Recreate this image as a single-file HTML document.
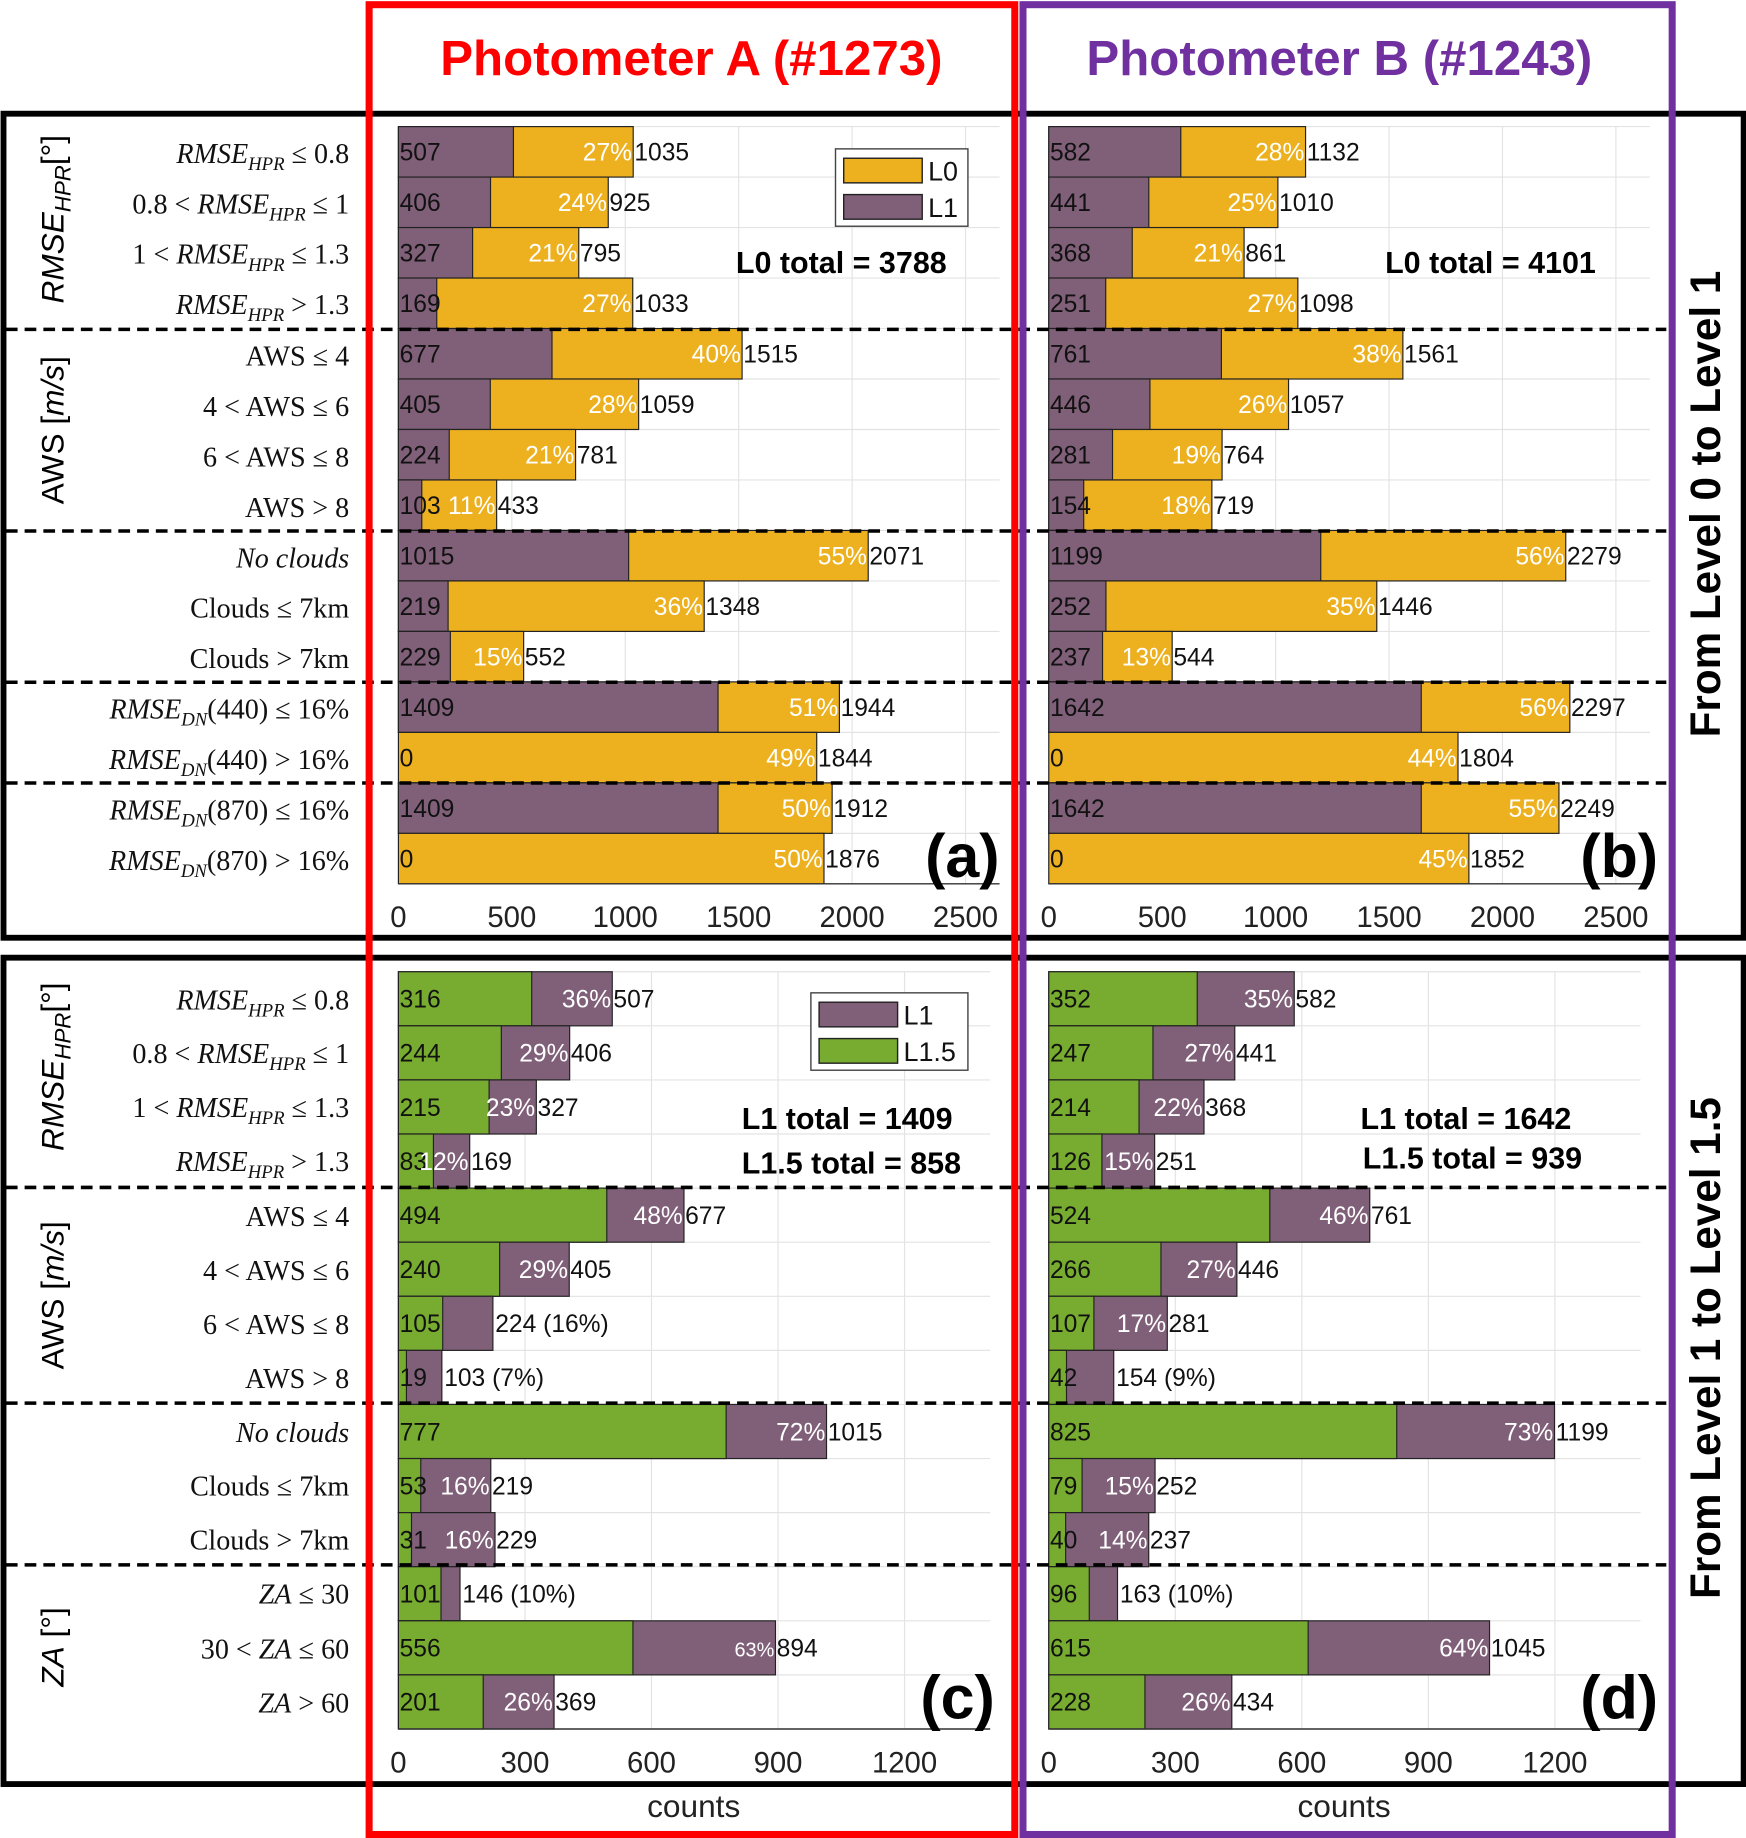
<!DOCTYPE html>
<html><head><meta charset="utf-8"><style>
html,body{margin:0;padding:0;background:#fff}
svg{display:block}
text{font-family:"Liberation Sans",sans-serif}
.lab{font-family:"Liberation Serif",serif;font-size:24px;text-anchor:end;fill:#111}
.it{font-style:italic}
</style></head><body>
<svg id="fig" width="1746" height="1838" viewBox="0 0 1490 1568" preserveAspectRatio="none" xmlns="http://www.w3.org/2000/svg">
<rect x="0" y="0" width="1490" height="1568" fill="#fff"/>
<g id="plots"></g>
<g>
<text class="lab" x="298" y="139"><tspan class="it">RMSE</tspan><tspan class="it" font-size="16" dy="6">HPR</tspan><tspan dy="-6"> ≤ 0.8</tspan></text>
<text class="lab" x="298" y="182">0.8 &lt; <tspan class="it">RMSE</tspan><tspan class="it" font-size="16" dy="6">HPR</tspan><tspan dy="-6"> ≤ 1</tspan></text>
<text class="lab" x="298" y="225">1 &lt; <tspan class="it">RMSE</tspan><tspan class="it" font-size="16" dy="6">HPR</tspan><tspan dy="-6"> ≤ 1.3</tspan></text>
<text class="lab" x="298" y="268"><tspan class="it">RMSE</tspan><tspan class="it" font-size="16" dy="6">HPR</tspan><tspan dy="-6"> &gt; 1.3</tspan></text>
<text class="lab" x="298" y="312">AWS ≤ 4</text>
<text class="lab" x="298" y="355">4 &lt; AWS ≤ 6</text>
<text class="lab" x="298" y="398">6 &lt; AWS ≤ 8</text>
<text class="lab" x="298" y="441">AWS &gt; 8</text>
<text class="lab it" x="298" y="484">No clouds</text>
<text class="lab" x="298" y="527">Clouds ≤ 7km</text>
<text class="lab" x="298" y="570">Clouds &gt; 7km</text>
<text class="lab" x="298" y="613"><tspan class="it">RMSE</tspan><tspan class="it" font-size="16" dy="6">DN</tspan><tspan dy="-6">(440) ≤ 16%</tspan></text>
<text class="lab" x="298" y="656"><tspan class="it">RMSE</tspan><tspan class="it" font-size="16" dy="6">DN</tspan><tspan dy="-6">(440) &gt; 16%</tspan></text>
<text class="lab" x="298" y="699"><tspan class="it">RMSE</tspan><tspan class="it" font-size="16" dy="6">DN</tspan><tspan dy="-6">(870) ≤ 16%</tspan></text>
<text class="lab" x="298" y="742"><tspan class="it">RMSE</tspan><tspan class="it" font-size="16" dy="6">DN</tspan><tspan dy="-6">(870) &gt; 16%</tspan></text>
</g>
<g>
<text class="lab" x="298" y="861"><tspan class="it">RMSE</tspan><tspan class="it" font-size="16" dy="6">HPR</tspan><tspan dy="-6"> ≤ 0.8</tspan></text>
<text class="lab" x="298" y="907">0.8 &lt; <tspan class="it">RMSE</tspan><tspan class="it" font-size="16" dy="6">HPR</tspan><tspan dy="-6"> ≤ 1</tspan></text>
<text class="lab" x="298" y="953">1 &lt; <tspan class="it">RMSE</tspan><tspan class="it" font-size="16" dy="6">HPR</tspan><tspan dy="-6"> ≤ 1.3</tspan></text>
<text class="lab" x="298" y="999"><tspan class="it">RMSE</tspan><tspan class="it" font-size="16" dy="6">HPR</tspan><tspan dy="-6"> &gt; 1.3</tspan></text>
<text class="lab" x="298" y="1046">AWS ≤ 4</text>
<text class="lab" x="298" y="1092">4 &lt; AWS ≤ 6</text>
<text class="lab" x="298" y="1138">6 &lt; AWS ≤ 8</text>
<text class="lab" x="298" y="1184">AWS &gt; 8</text>
<text class="lab it" x="298" y="1230">No clouds</text>
<text class="lab" x="298" y="1276">Clouds ≤ 7km</text>
<text class="lab" x="298" y="1322">Clouds &gt; 7km</text>
<text class="lab" x="298" y="1368"><tspan class="it">ZA</tspan> ≤ 30</text>
<text class="lab" x="298" y="1415">30 &lt; <tspan class="it">ZA</tspan> ≤ 60</text>
<text class="lab" x="298" y="1461"><tspan class="it">ZA</tspan> &gt; 60</text>
</g>
<g font-family="Liberation Serif,serif" font-size="27" text-anchor="middle">
<text transform="translate(54,187) rotate(-90)"><tspan font-style="italic">RMSE</tspan><tspan font-style="italic" font-size="19" dy="6">HPR</tspan><tspan dy="-6">[°]</tspan></text>
<text transform="translate(54,367) rotate(-90)">AWS  [<tspan font-style="italic">m/s</tspan>]</text>
<text transform="translate(54,910) rotate(-90)"><tspan font-style="italic">RMSE</tspan><tspan font-style="italic" font-size="19" dy="6">HPR</tspan><tspan dy="-6">[°]</tspan></text>
<text transform="translate(54,1105) rotate(-90)">AWS  [<tspan font-style="italic">m/s</tspan>]</text>
<text transform="translate(54,1405) rotate(-90)"><tspan font-style="italic">ZA</tspan> [°]</text>
</g>
<rect x="3" y="97" width="1485" height="703" fill="none" stroke="#000" stroke-width="5"/>
<rect x="3" y="817" width="1485" height="705" fill="none" stroke="#000" stroke-width="5"/>
<rect x="315" y="4" width="551" height="1561" fill="none" stroke="#ff0000" stroke-width="6"/>
<rect x="873" y="4" width="554" height="1561" fill="none" stroke="#7030a0" stroke-width="6"/>
<text x="590" y="64" text-anchor="middle" font-size="42" font-weight="bold" fill="#ff0000">Photometer A (#1273)</text>
<text x="1143" y="64" text-anchor="middle" font-size="42" font-weight="bold" fill="#7030a0">Photometer B (#1243)</text>
<text transform="translate(1468,430) rotate(-90)" text-anchor="middle" font-size="36" font-weight="bold">From Level 0 to Level 1</text>
<text transform="translate(1468,1150) rotate(-90)" text-anchor="middle" font-size="36" font-weight="bold">From Level 1 to Level 1.5</text>
</svg>
<script>
const aBase = [507,406,327,169,677,405,224,103,1015,219,229,1409,0,1409,0];
const aTotal = [1035,925,795,1033,1515,1059,781,433,2071,1348,552,1944,1844,1912,1876];
const aPct = [27,24,21,27,40,28,21,11,55,36,15,51,49,50,50];
const bBase = [582,441,368,251,761,446,281,154,1199,252,237,1642,0,1642,0];
const bTotal = [1132,1010,861,1098,1561,1057,764,719,2279,1446,544,2297,1804,2249,1852];
const bPct = [28,25,21,27,38,26,19,18,56,35,13,56,44,55,45];
const cBase = [316,244,215,83,494,240,105,19,777,53,31,101,556,201];
const cTotal = [507,406,327,169,677,405,224,103,1015,219,229,146,894,369];
const cPct = [36,29,23,12,48,29,16,7,72,16,16,10,63,26];
const cOutside = [6,7,11];
const dBase = [352,247,214,126,524,266,107,42,825,79,40,96,615,228];
const dTotal = [582,441,368,251,761,446,281,154,1199,252,237,163,1045,434];
const dPct = [35,27,22,15,46,27,17,9,73,15,14,10,64,26];
const dOutside = [7,11];
const topTicks = [0,500,1000,1500,2000,2500];
const botTicks = [0,300,600,900,1200];

const NS = "http://www.w3.org/2000/svg";
const root = document.getElementById('plots');
function mk(tag, attrs, parent){const e=document.createElementNS(NS,tag);for(const k in attrs)e.setAttribute(k,attrs[k]);(parent||root).appendChild(e);return e;}

function panel(o){
  const g = mk('g',{});
  
  
  const n = o.base.length, rh = (o.y1-o.y0)/n;
  const sx = v => o.x0 + (v/o.xmax)*(o.x1-o.x0);
  const sy = i => o.y0 + i*rh;
  o.ticks.forEach(t=>{ mk('line',{x1:sx(t),x2:sx(t),y1:o.y0,y2:o.y1,stroke:'#e3e3e3','stroke-width':1},g); });
  for(let i=0;i<=n;i++) mk('line',{x1:o.x0,x2:o.x1,y1:sy(i),y2:sy(i),stroke:'#e3e3e3','stroke-width':1},g);
  for(let i=0;i<n;i++){
    const y = sy(i);
    const tb = mk('rect',{x:sx(0),y:y,width:sx(o.total[i])-sx(0),height:rh,fill:o.cTop,stroke:'#222','stroke-width':1},g);
    
    
    if(o.base[i]>0){
      const bb = mk('rect',{x:sx(0),y:y,width:sx(o.base[i])-sx(0),height:rh,fill:o.cBase,stroke:'#222','stroke-width':1},g);
      
      
    }
    const ty = y+rh/2+7.5;
    const t1 = mk('text',{x:sx(0)+1,y:ty,'font-size':21,fill:'#111'},g); t1.textContent=o.base[i];
    const xe = sx(o.total[i]);
    if(o.outside.indexOf(i)>=0){
      const t2 = mk('text',{x:xe+2,y:ty,'font-size':21,fill:'#111'},g); t2.textContent=o.total[i]+' ('+o.pct[i]+'%)';
    } else {
      const small = (o.pct[i]===63 && o.name==='panel-c') ? 17 : 21;
      const t3 = mk('text',{x:xe-1,y:ty,'font-size':small,fill:'#fff','text-anchor':'end'},g); t3.textContent=o.pct[i]+'%';
      const t4 = mk('text',{x:xe+1,y:ty,'font-size':21,fill:'#111'},g); t4.textContent=o.total[i];
    }
  }
  mk('line',{x1:o.x0,x2:o.x1,y1:o.y1,y2:o.y1,stroke:'#333','stroke-width':1.2},g);
  o.ticks.forEach(t=>{
    const tt = mk('text',{x:sx(t),y:o.y1+37,'font-size':25,'text-anchor':'middle',fill:'#222'},g); tt.textContent=t;
  });
}
panel({name:'panel-a',x0:340,x1:853,xmax:2650,y0:108,y1:754,base:aBase,total:aTotal,pct:aPct,outside:[],cTop:'#edb120',cBase:'#806079',ticks:topTicks});
panel({name:'panel-b',x0:895,x1:1408,xmax:2650,y0:108,y1:754,base:bBase,total:bTotal,pct:bPct,outside:[],cTop:'#edb120',cBase:'#806079',ticks:topTicks});
panel({name:'panel-c',x0:340,x1:845,xmax:1403,y0:829,y1:1475,base:cBase,total:cTotal,pct:cPct,outside:cOutside,cTop:'#806079',cBase:'#77ac30',ticks:botTicks});
panel({name:'panel-d',x0:895,x1:1400,xmax:1403,y0:829,y1:1475,base:dBase,total:dTotal,pct:dPct,outside:dOutside,cTop:'#806079',cBase:'#77ac30',ticks:botTicks});

[281,453,582,668,1013,1197,1335].forEach(y=>{
  const l = mk('line',{x1:5,x2:1422,y1:y,y2:y,stroke:'#000','stroke-width':3,'stroke-dasharray':'10,6'});
  
  
});

function txt(x,y,s,attrs,name){const t=mk('text',Object.assign({x:x,y:y},attrs));t.textContent=s;return t;}
function legend(x,y,w,items,name){
  const g=mk('g',{});
  
  
  mk('rect',{x:x,y:y,width:w,height:66,fill:'#fff',stroke:'#444','stroke-width':1.2},g);
  items.forEach((it,k)=>{
    mk('rect',{x:x+7,y:y+8+k*31,width:67,height:21,fill:it[1],stroke:'#222','stroke-width':1.2},g);
    const t=mk('text',{x:x+79,y:y+27+k*31,'font-size':23,fill:'#111'},g);t.textContent=it[0];
  });
}
legend(713,127,113,[['L0','#edb120'],['L1','#806079']],'legend-a');
legend(692,847,134,[['L1','#806079'],['L1.5','#77ac30']],'legend-c');
const B={'font-size':26,'font-weight':'bold',fill:'#000'};
txt(628,233,'L0 total = 3788',B,'l0-total-a');
txt(1182,233,'L0 total = 4101',B,'l0-total-b');
txt(633,963,'L1 total = 1409',B,'l1-total-c');
txt(633,1001,'L1.5 total = 858',B,'l15-total-c');
txt(1161,963,'L1 total = 1642',B,'l1-total-d');
txt(1163,997,'L1.5 total = 939',B,'l15-total-d');
const P={'font-size':52,'font-weight':'bold',fill:'#000','text-anchor':'end'};
txt(853,748,'(a)',P,'panel-label-a');
txt(1415,748,'(b)',P,'panel-label-b');
txt(849,1466,'(c)',P,'panel-label-c');
txt(1415,1466,'(d)',P,'panel-label-d');
const C={'font-size':27,'text-anchor':'middle',fill:'#222'};
txt(592,1550,'counts',C,'x-axis-title-c');
txt(1147,1550,'counts',C,'x-axis-title-d');
</script>
</body></html>
